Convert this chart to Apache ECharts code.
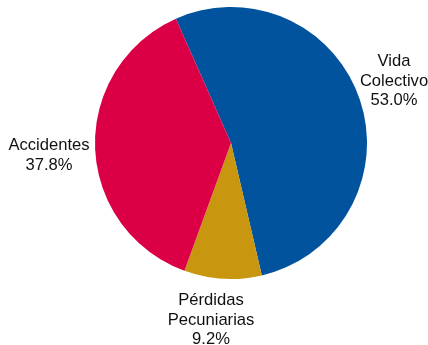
<!DOCTYPE html>
<html>
<head>
<meta charset="utf-8">
<script src="https://cdn.jsdelivr.net/npm/echarts@6/dist/echarts.min.js"></script>
<style>
html,body{margin:0;padding:0;background:#fff;}
#chart{width:428px;height:345px;}
</style>
</head>
<body>
<div id="chart"></div>
<script>
const categories = ['Vida\nColectivo', 'Pérdidas\nPecuniarias', 'Accidentes'];
const values = [53.0, 9.2, 37.8];
const colors = ['#01539D', '#C8960F', '#DB0045'];
// label anchor points (centre of each text block)
const labelPos = [[394, 81], [211, 320], [49, 155.5]];

const chart = echarts.init(document.getElementById('chart'), null, {renderer: 'canvas'});
chart.setOption({
  animation: false,
  series: [{
    type: 'pie',
    center: [231, 143],
    radius: [0, 136],
    startAngle: 113.9,
    clockwise: true,
    data: categories.map((c, i) => ({name: c, value: values[i], itemStyle: {color: colors[i]}})),
    label: {
      show: true,
      position: 'inside',
      formatter: p => p.name + '\n' + p.value.toFixed(1) + '%',
      fontFamily: 'Liberation Sans, Arial, sans-serif',
      fontSize: 16.6,
      lineHeight: 19.5,
      color: '#111',
      align: 'center',
      overflow: 'none'
    },
    labelLine: {show: false},
    labelLayout: params => ({
      x: labelPos[params.dataIndex][0],
      y: labelPos[params.dataIndex][1],
      align: 'center',
      verticalAlign: 'middle',
      hideOverlap: false
    }),
    emphasis: {disabled: true}
  }]
});
</script>
</body>
</html>
